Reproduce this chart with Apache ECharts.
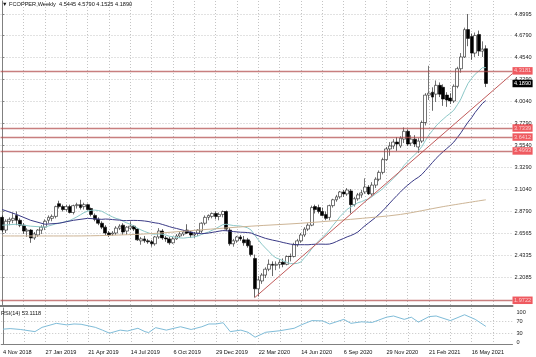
<!DOCTYPE html>
<html><head><meta charset="utf-8">
<script src="https://cdn.jsdelivr.net/npm/echarts@6/dist/echarts.min.js"></script>
<style>html,body{margin:0;padding:0;background:#fff}#c{width:536px;height:357px}</style>
</head><body><div id="c"></div>
<script>
const symbol = 'FCOPPER';
const timeframe = 'Weekly';
const xTickIndex = [0,12,24,36,48,60,72,84,96,108,120,132];
const xTickLabels = ['4 Nov 2018','27 Jan 2019','21 Apr 2019','14 Jul 2019','6 Oct 2019','29 Dec 2019','22 Mar 2020','14 Jun 2020','6 Sep 2020','29 Nov 2020','21 Feb 2021','16 May 2021'];
const xGridIndex = [0,6,12,18,24,30,36,42,48,54,60,66,72,78,84,90,96,102,108,114,120,126,132,138];
const priceTicks = [4.8995,4.6790,4.4540,4.2290,4.0040,3.7790,3.5540,3.3290,3.1040,2.8790,2.6565,2.4335,2.2085];
const rsiTicks = [0,30,70,100];
const rsiLevels = [30,70];
const levelLines = [4.3181,3.7339,3.6412,3.4993,1.9722];
const lastPrice = 4.1890;
const rsiLast = 53.1118;

const opens = [2.82,2.69,2.78,2.79,2.84,2.79,2.74,2.68,2.69,2.61,2.64,2.69,2.72,2.79,2.81,2.83,2.96,2.93,2.90,2.93,
2.87,2.94,2.95,2.93,2.95,2.91,2.84,2.80,2.76,2.72,2.66,2.65,2.66,2.71,2.74,2.68,2.71,2.73,2.70,2.58,
2.60,2.58,2.57,2.55,2.62,2.68,2.61,2.60,2.56,2.60,2.63,2.65,2.69,2.67,2.64,2.66,2.68,2.76,2.82,2.83,
2.86,2.83,2.85,2.88,2.69,2.55,2.58,2.62,2.59,2.59,2.53,2.40,2.09,2.17,2.23,2.29,2.34,2.33,2.34,2.36,
2.34,2.42,2.42,2.54,2.58,2.64,2.70,2.74,2.93,2.92,2.88,2.85,2.82,2.94,3.00,3.03,3.08,3.06,3.09,2.95,
3.01,3.05,3.08,3.13,3.06,3.15,3.21,3.28,3.41,3.52,3.55,3.59,3.55,3.62,3.70,3.58,3.62,3.54,3.60,3.79,
4.07,4.10,4.08,4.17,4.15,4.07,4.04,4.01,4.16,4.34,4.46,4.74,4.67,4.50,4.69,4.52,4.5445];
const highs = [2.84,2.80,2.82,2.87,2.88,2.81,2.76,2.71,2.70,2.67,2.70,2.74,2.80,2.84,2.85,2.94,2.99,2.95,2.95,2.95,
2.95,2.97,3.00,2.97,2.96,2.92,2.86,2.82,2.78,2.74,2.68,2.68,2.73,2.75,2.76,2.73,2.78,2.74,2.71,2.62,
2.63,2.60,2.59,2.63,2.71,2.70,2.63,2.62,2.62,2.65,2.67,2.69,2.75,2.68,2.67,2.70,2.77,2.84,2.85,2.87,
2.88,2.87,2.89,2.89,2.71,2.60,2.63,2.64,2.63,2.61,2.58,2.44,2.22,2.25,2.31,2.39,2.37,2.37,2.39,2.40,
2.43,2.45,2.56,2.60,2.66,2.72,2.76,2.94,2.95,2.95,2.92,2.88,2.95,3.01,3.05,3.09,3.10,3.12,3.11,3.03,
3.07,3.10,3.22,3.15,3.18,3.23,3.30,3.43,3.54,3.59,3.62,3.64,3.65,3.74,3.72,3.66,3.66,3.63,3.81,4.09,
4.37,4.15,4.22,4.20,4.18,4.10,4.09,4.18,4.36,4.50,4.76,4.8995,4.70,4.71,4.73,4.62,4.5790];
const lows = [2.67,2.66,2.74,2.76,2.74,2.72,2.65,2.62,2.56,2.59,2.62,2.65,2.69,2.76,2.78,2.81,2.91,2.88,2.88,2.86,
2.85,2.91,2.90,2.90,2.89,2.83,2.78,2.74,2.70,2.64,2.62,2.63,2.64,2.69,2.64,2.64,2.69,2.68,2.58,2.54,
2.56,2.55,2.52,2.53,2.60,2.59,2.57,2.54,2.55,2.59,2.61,2.63,2.65,2.61,2.61,2.63,2.66,2.74,2.79,2.81,
2.80,2.79,2.82,2.68,2.53,2.52,2.56,2.58,2.53,2.51,2.42,2.00,2.01,2.14,2.20,2.27,2.22,2.28,2.30,2.31,
2.33,2.37,2.41,2.52,2.56,2.62,2.68,2.73,2.86,2.86,2.83,2.79,2.79,2.92,2.98,3.01,3.03,3.04,2.86,2.93,
2.99,3.02,3.06,3.05,3.04,3.12,3.19,3.26,3.40,3.45,3.52,3.50,3.53,3.58,3.55,3.55,3.54,3.48,3.58,3.76,
4.02,3.91,4.00,4.05,3.96,3.95,3.98,3.99,4.14,4.30,4.45,4.57,4.43,4.46,4.47,4.46,4.1525];
const closes = [2.69,2.78,2.80,2.81,2.79,2.74,2.68,2.69,2.61,2.65,2.69,2.72,2.78,2.82,2.83,2.93,2.93,2.90,2.93,2.87,
2.94,2.95,2.92,2.95,2.90,2.85,2.80,2.76,2.72,2.66,2.64,2.66,2.71,2.73,2.67,2.72,2.73,2.70,2.59,2.60,
2.58,2.57,2.55,2.62,2.68,2.61,2.60,2.56,2.60,2.63,2.65,2.67,2.66,2.64,2.65,2.69,2.76,2.82,2.84,2.86,
2.83,2.85,2.88,2.70,2.55,2.58,2.62,2.60,2.56,2.53,2.44,2.09,2.18,2.23,2.29,2.34,2.33,2.34,2.36,2.34,
2.42,2.42,2.54,2.58,2.64,2.70,2.74,2.92,2.90,2.88,2.84,2.81,2.94,3.00,3.03,3.08,3.06,3.10,2.95,3.01,
3.05,3.07,3.13,3.06,3.15,3.21,3.28,3.41,3.52,3.55,3.59,3.57,3.63,3.70,3.57,3.62,3.57,3.60,3.79,4.07,
4.09,4.05,4.17,4.08,4.03,4.02,4.01,4.16,4.34,4.46,4.74,4.65,4.50,4.68,4.52,4.54,4.1890];

// moving-average readings where the averaging window starts before the first visible bar
const fastMAEarly = [[0,2.74],[4,2.75],[8,2.73],[12,2.72]];
const slowMAEarly = [[0,2.90],[4,2.85],[8,2.79],[12,2.75],[16,2.76],[20,2.79],[24,2.81],[28,2.80]];
const ma200Read = [[0,2.63],[20,2.63],[40,2.65],[55,2.69],[70,2.73],[84,2.76],[98,2.80],[112,2.85],[124,2.93],[136,3.00]];
const trendLine = [[71,2.00],[143.5,4.29]];
const rsiRead = [[0,44],[2,46],[5,43],[9,36],[11,50],[15,63],[18,58],[20,61],[22,60],[26,50],[28,41],[30,31],[33,41],[35,38],[38,47],[40,36],[41,33],[43,49],[46,41],[50,52],[53,43],[56,52],[58,61],[60,61],[62,65],[64,36],[67,41],[69,34],[71,18],[74,34],[78,39],[82,47],[84,58],[87,72],[90,71],[92,61],[96,76],[98,63],[101,68],[104,66],[108,83],[110,87],[113,76],[115,83],[117,67],[120,85],[122,87],[126,72],[130,91],[133,76],[136,53.11]];

function sma(period, early){
  const out = early.slice();
  for (let i = period - 1; i < closes.length; i++) {
    let s = 0; for (let j = i - period + 1; j <= i; j++) s += closes[j];
    out.push([i, s / period]);
  }
  return out;
}
const candles = closes.map((c, i) => [i, opens[i], c, lows[i], highs[i]]);
const n = closes.length - 1;
const FONT = 'Liberation Sans';
const FS = 5.6;
const gridLine = {show: true, lineStyle: {color: '#c4c4c4', type: [1, 2], width: 1}};

const chart = echarts.init(document.getElementById('c'), null, {renderer: 'canvas'});
chart.setOption({
  animation: false,
  backgroundColor: '#fff',
  textStyle: {fontFamily: FONT},
  title: [
    {text: '\u25BC ' + symbol + ',' + timeframe + '  ' + opens[n].toFixed(4) + ' ' + highs[n].toFixed(4) + ' ' + lows[n].toFixed(4) + ' ' + closes[n].toFixed(4),
     left: 2, top: 1, padding: 0, textStyle: {fontSize: FS, fontWeight: 'normal', color: '#111', fontFamily: FONT}},
    {text: 'RSI(14) ' + rsiLast.toFixed(4), left: 1, top: 310, padding: 0, textStyle: {fontSize: FS, fontWeight: 'normal', color: '#111', fontFamily: FONT}}
  ],
  grid: [
    {left: 0.5, top: 1, width: 512, height: 305},
    {left: 0.5, top: 308, width: 512, height: 36}
  ],
  xAxis: [
    {type: 'value', gridIndex: 0, min: -0.5, max: 143.5,
     axisLine: {show: true, onZero: false, lineStyle: {color: '#7a7a7a', width: 2}},
     axisTick: {show: false, customValues: xGridIndex},
     axisLabel: {show: false},
     splitLine: gridLine},
    {type: 'value', gridIndex: 1, min: -0.5, max: 143.5,
     axisLine: {show: true, onZero: false, lineStyle: {color: '#808080', width: 1}},
     axisTick: {show: false, customValues: xGridIndex},
     axisLabel: {show: true, customValues: xTickIndex, formatter: v => xTickLabels[xTickIndex.indexOf(Math.round(v))] || '',
                 fontSize: FS, color: '#111', align: 'left', margin: 5, fontFamily: FONT},
     splitLine: gridLine}
  ],
  yAxis: [
    {type: 'value', gridIndex: 0, position: 'right', min: 1.9138, max: 5.0324, scale: true,
     axisLine: {show: true, lineStyle: {color: '#808080'}},
     axisTick: {show: true, length: 2, customValues: priceTicks, lineStyle: {color: '#808080'}},
     axisLabel: {customValues: priceTicks, formatter: v => v.toFixed(4), fontSize: FS, color: '#222', margin: 2, fontFamily: FONT},
     splitLine: gridLine},
    {type: 'value', gridIndex: 1, position: 'right', min: -4.2, max: 113,
     axisLine: {show: true, lineStyle: {color: '#808080'}},
     axisTick: {show: false, customValues: rsiLevels},
     axisLabel: {customValues: rsiTicks, fontSize: FS, color: '#222', margin: 4, fontFamily: FONT},
     splitLine: gridLine}
  ],
  series: [
    {type: 'candlestick', xAxisIndex: 0, yAxisIndex: 0, data: candles, encode: {x: 0, y: [1, 2, 3, 4]},
     barWidth: 3.3,
     itemStyle: {color: '#ffffff', color0: '#000000', borderColor: '#1a1a1a', borderColor0: '#000000', borderWidth: 0.6},
     markLine: {silent: true, symbol: ['none', 'none'], animation: false, precision: 4,
       lineStyle: {color: '#b04848', width: 1.4, type: 'solid', opacity: 0.7},
       label: {show: true, position: 'end', distance: 0, formatter: p => Number(p.value).toFixed(4),
               backgroundColor: '#e8141c', color: '#fff', fontSize: FS, padding: [1, 1.5, 0.5, 1.5], fontFamily: FONT},
       emphasis: {disabled: true},
       data: levelLines.map(v => ({yAxis: v})).concat([
         {yAxis: lastPrice, lineStyle: {color: 'rgba(0,0,0,0)', opacity: 1}, label: {backgroundColor: '#000', color: '#fff'}}])}
    },
    {type: 'line', name: 'MA fast', xAxisIndex: 0, yAxisIndex: 0, data: sma(14, fastMAEarly), symbol: 'none',
     lineStyle: {color: '#8cc8c8', width: 1}, z: 3},
    {type: 'line', name: 'MA slow', xAxisIndex: 0, yAxisIndex: 0, data: sma(30, slowMAEarly), symbol: 'none',
     lineStyle: {color: '#3a3a86', width: 1}, z: 3},
    {type: 'line', name: 'MA 200', xAxisIndex: 0, yAxisIndex: 0, data: ma200Read, symbol: 'none', smooth: 0.3,
     lineStyle: {color: '#cdb596', width: 1}, z: 3},
    {type: 'line', name: 'Trend', xAxisIndex: 0, yAxisIndex: 0, data: trendLine, symbol: 'none',
     lineStyle: {color: '#c05a5a', width: 1}, z: 3},
    {type: 'line', name: 'RSI', xAxisIndex: 1, yAxisIndex: 1, data: rsiRead, symbol: 'none',
     lineStyle: {color: '#7fbcd8', width: 1}}
  ]
});
</script></body></html>
